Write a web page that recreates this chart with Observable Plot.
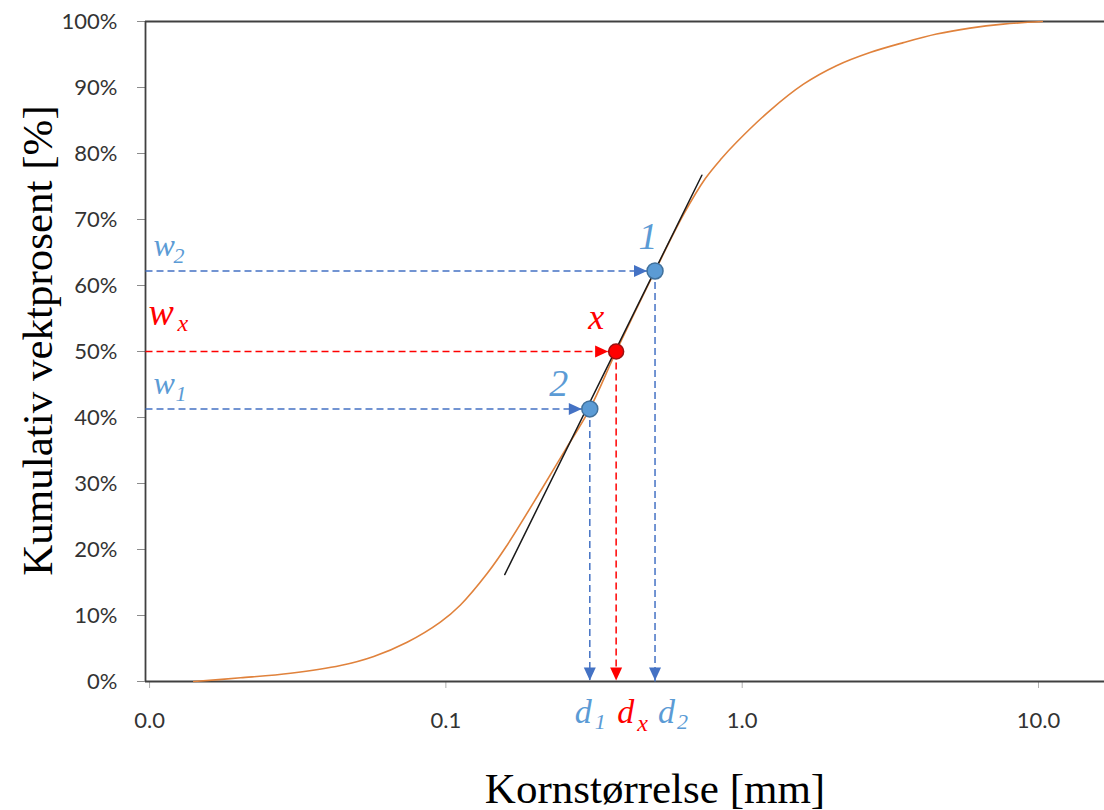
<!DOCTYPE html>
<html><head><meta charset="utf-8">
<script src="https://cdn.jsdelivr.net/npm/d3@7"></script>
<script src="https://cdn.jsdelivr.net/npm/@observablehq/plot@0.6"></script>
<style>
html,body{margin:0;padding:0;background:#fff;}
#chart svg{display:block}
</style></head><body><div id="chart"></div>
<script>
// ---- data ----
const grainSize  = [0.0141, 0.0203, 0.0299, 0.0441, 0.0571, 0.0740, 0.0958, 0.112, 0.138, 0.159, 0.209, 0.253, 0.306, 0.3755, 0.508, 0.635, 0.751, 0.85, 0.957, 1.24, 1.61, 2.08, 2.70, 3.50, 4.53, 5.87, 7.60, 10.3];
const cumPercent = [0, 0.56, 1.26, 2.42, 3.8, 5.95, 9.0, 11.6, 16.4, 20.3, 28.9, 35.1, 41.3, 50.0, 62.2, 70.8, 76.2, 79.2, 81.7, 86.5, 90.5, 93.3, 95.3, 96.8, 98.1, 99.0, 99.6, 100];

const tangentSize = [0.158, 0.731];
const tangentPct  = [16.2, 76.7];

const pointNames = ["1", "x", "2"];
const pointSize  = [0.508, 0.3755, 0.306];
const pointPct   = [62.2, 50.0, 41.3];

const xTicks = [0.01, 0.1, 1, 10];
const xTickLabels = ["0.0", "0.1", "1.0", "10.0"];
const yTicks = [0, 10, 20, 30, 40, 50, 60, 70, 80, 90, 100];

const xTitle = "Kornstørrelse [mm]";
const yTitle = "Kumulativ vektprosent [%]";

// ---- derived tables ----
const curve = grainSize.map((d, i) => ({d, p: cumPercent[i]}));
const tangent = tangentSize.map((d, i) => ({d, p: tangentPct[i]}));
const pts = pointNames.map((n, i) => ({n, d: pointSize[i], p: pointPct[i]}));
const xDomain = [0.00969, 16.7];
const xLabelOf = v => {
  let best = 0;
  xTicks.forEach((t, i) => { if (Math.abs(Math.log10(t) - Math.log10(v)) < Math.abs(Math.log10(xTicks[best]) - Math.log10(v))) best = i; });
  return xTickLabels[best];
};

const BLUE = "#4472C4", LBLUE = "#5B9BD5", RED = "#FF0000";
const tickFont = "Lato, 'Open Sans', sans-serif";
const mathFont = "'Liberation Serif', 'DejaVu Serif', serif";

// arrowhead symbols with the tip at the origin
const arrowRight = {draw(ctx) { ctx.moveTo(0, 0); ctx.lineTo(-13, -6); ctx.lineTo(-13, 6); ctx.closePath(); }};
const arrowDown  = {draw(ctx) { ctx.moveTo(0, 0); ctx.lineTo(-6, -13); ctx.lineTo(6, -13); ctx.closePath(); }};

function label(x, y, str, o) {
  return Plot.text([0], {x: () => x, y: () => y, text: () => str, fontFamily: mathFont,
    fontStyle: "italic", lineAnchor: "bottom", textAnchor: "start", ...o});
}

const byName = Object.fromEntries(pts.map(p => [p.n, p]));
const p1 = byName["1"], px = byName["x"], p2 = byName["2"];
const colorOf = n => n === "x" ? RED : BLUE;

const plot = Plot.plot({
  width: 1104, height: 810,
  marginLeft: 145, marginRight: 0, marginTop: 21, marginBottom: 129,
  style: {background: "#fff", overflow: "visible"},
  x: {type: "log", domain: xDomain},
  y: {domain: [0, 100]},
  marks: [
    Plot.axisY({ticks: yTicks, tickFormat: d => d + "%", tickSize: 8, tickPadding: 20,
      fontSize: 22, fontFamily: tickFont, fill: "#333", stroke: "#8c8c8c", label: null}),
    Plot.axisX({ticks: xTicks, tickFormat: xLabelOf, tickSize: 7, tickPadding: 24,
      fontSize: 22, fontFamily: tickFont, fill: "#333", stroke: "#b0b0b0", label: null}),
    // frame (left, top, bottom)
    Plot.ruleY([0, 100], {stroke: "#404040", strokeWidth: 1.8}),
    Plot.ruleX([xDomain[0]], {stroke: "#404040", strokeWidth: 1.8}),
    // grading curve
    Plot.line(curve, {x: "d", y: "p", stroke: "#E0823C", strokeWidth: 1.6, curve: "catmull-rom"}),
    // tangent
    Plot.line(tangent, {x: "d", y: "p", stroke: "#1a1a1a", strokeWidth: 1.5}),
    // dashed guides
    Plot.link(pts, {x1: () => xDomain[0], y1: "p", x2: "d", y2: "p", stroke: d => colorOf(d.n),
      strokeWidth: 1.5, strokeDasharray: "7,4"}),
    Plot.link(pts, {x1: "d", y1: "p", x2: "d", y2: () => 0, stroke: d => colorOf(d.n),
      strokeWidth: 1.5, strokeDasharray: "7,4"}),
    // arrow heads
    Plot.dot(pts, {x: "d", y: "p", symbol: arrowRight, r: 6, fill: d => colorOf(d.n), stroke: "none", dx: -8}),
    Plot.dot(pts, {x: "d", y: () => 0, symbol: arrowDown, r: 6, fill: d => colorOf(d.n), stroke: "none", dy: -1}),
    // points
    Plot.dot(pts.filter(d => d.n !== "x"), {x: "d", y: "p", r: 8, fill: LBLUE, stroke: "#41719C", strokeWidth: 1.5}),
    Plot.dot(pts.filter(d => d.n === "x"), {x: "d", y: "p", r: 7.5, fill: RED, stroke: "#9C1010", strokeWidth: 1.5}),
    // point labels
    label(p1.d, p1.p, "1", {fill: LBLUE, fontSize: 38, textAnchor: "middle", dx: -7, dy: -22}),
    label(p2.d, p2.p, "2", {fill: LBLUE, fontSize: 38, textAnchor: "middle", dx: -31, dy: -13}),
    label(px.d, px.p, "x", {fill: RED, fontSize: 36, textAnchor: "middle", dx: -20, dy: -23}),
    // w labels
    label(xDomain[0], p1.p, "w", {fill: LBLUE, fontSize: 32, dx: 8, dy: -15}),
    label(xDomain[0], p1.p, "2", {fill: LBLUE, fontSize: 22, dx: 28, dy: -8}),
    label(xDomain[0], px.p, "w", {fill: RED, fontSize: 38, dx: 3, dy: -27}),
    label(xDomain[0], px.p, "x", {fill: RED, fontSize: 24, dx: 32, dy: -21}),
    label(xDomain[0], p2.p, "w", {fill: LBLUE, fontSize: 32, dx: 8, dy: -15}),
    label(xDomain[0], p2.p, "1", {fill: LBLUE, fontSize: 22, dx: 30, dy: -8}),
    // d labels
    label(p2.d, 0, "d", {fill: LBLUE, fontSize: 34, dx: -15, dy: 41}),
    label(p2.d, 0, "1", {fill: LBLUE, fontSize: 22, dx: 5, dy: 47}),
    label(px.d, 0, "d", {fill: RED, fontSize: 34, dx: 1, dy: 41}),
    label(px.d, 0, "x", {fill: RED, fontSize: 24, dx: 21, dy: 49}),
    label(p1.d, 0, "d", {fill: LBLUE, fontSize: 34, dx: 3, dy: 41}),
    label(p1.d, 0, "2", {fill: LBLUE, fontSize: 22, dx: 22, dy: 47}),
    // axis titles
    Plot.text([xTitle], {frameAnchor: "bottom", text: d => d, lineAnchor: "bottom", textAnchor: "middle", dx: 30, dy: 121,
      fontSize: 43, fontFamily: mathFont, fill: "#000"}),
    Plot.text([yTitle], {frameAnchor: "left", text: d => d, rotate: -90, textAnchor: "middle", lineAnchor: "middle",
      dx: -107, dy: -11, fontSize: 43, fontFamily: mathFont, fill: "#000"})
  ]
});
document.getElementById("chart").appendChild(plot);
</script></body></html>
